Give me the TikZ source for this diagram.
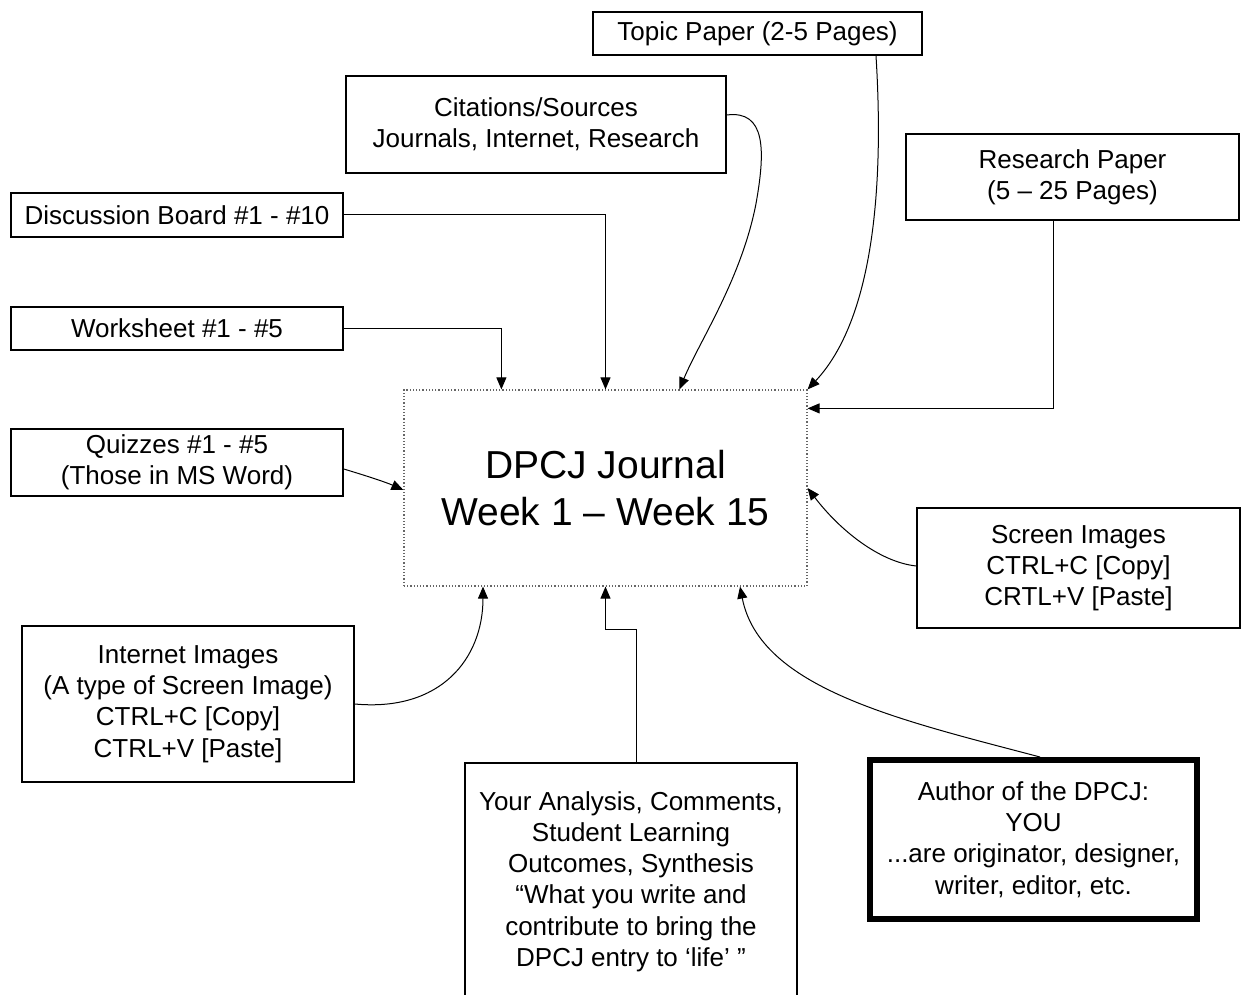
\documentclass[tikz,border=0pt]{standalone}
\usepackage{fontspec}
\setmainfont{Liberation Sans}
\usetikzlibrary{arrows.meta}
\tikzset{
  bx/.style={draw, line width=0.75pt, inner sep=0pt, align=center,
    font=\fontsize{13}{15.6}\selectfont},
  ctrbox/.style={draw=black!60, densely dotted, line width=0.6pt, inner sep=0pt, align=center,
    font=\fontsize{19.5}{23.5}\selectfont},
  thickbx/.style={draw, line width=3pt, inner sep=0pt, align=center,
    font=\fontsize{13}{15.6}\selectfont},
  arr/.style={line width=0.5pt, -{Triangle[length=6pt,width=5pt]}},
}
\begin{document}
\begin{tikzpicture}[x=0.5pt,y=-0.5pt]
\useasboundingbox (0,0) rectangle (1244,995);
\node[bx, minimum width=164.5pt, minimum height=21.5pt] (topic) at (757.5,33.5) {Topic Paper (2-5 Pages)};
\node[bx, minimum width=190pt, minimum height=48.5pt] (cite) at (536,124.5) {Citations/Sources\\Journals, Internet, Research};
\node[bx, minimum width=166pt, minimum height=22pt] (disc) at (177,215) {Discussion Board \#1 - \#10};
\node[bx, minimum width=166pt, minimum height=21.5pt] (work) at (177,328.5) {Worksheet \#1 - \#5};
\node[bx, minimum width=166pt, minimum height=33.5pt] (quiz) at (177,462.5) {Quizzes \#1 - \#5\\(Those in MS Word)};
\node[bx, minimum width=166.5pt, minimum height=43pt] (research) at (1072.5,177) {Research Paper\\(5 – 25 Pages)};
\node[ctrbox, minimum width=201.5pt, minimum height=98pt] (ctr) at (605.5,488) {DPCJ Journal\\Week 1 – Week 15};
\node[bx, minimum width=161.5pt, minimum height=60pt] (screen) at (1078.5,568) {Screen Images\\CTRL+C [Copy]\\CRTL+V [Paste]};
\node[bx, minimum width=166pt, minimum height=78pt] (inet) at (188,704) {Internet Images\\(A type of Screen Image)\\CTRL+C [Copy]\\CTRL+V [Paste]};
\node[bx, minimum width=166pt, minimum height=118.5pt] (anl) at (631,881.5) {Your Analysis, Comments,\\Student Learning\\Outcomes, Synthesis\\“What you write and\\contribute to bring the\\DPCJ entry to ‘life’ ”};
\node[thickbx, minimum width=163.5pt, minimum height=79.5pt] (author) at (1033.5,839.5) {Author of the DPCJ:\\YOU\\...are originator, designer,\\writer, editor, etc.};

\draw[arr] (disc.east) -| (ctr.north);
\draw[arr] (work.east) -| ([xshift=49pt]ctr.north west);
\draw[arr] ([yshift=4.75pt]cite.east) .. controls +(39,-5) and +(10,-55) .. ++(29,90)
  .. controls +(-15,75) and +(20,-48) .. ([xshift=138pt]ctr.north west);
\draw[arr] ([xshift=59.25pt]topic.south) .. controls +(9,145) and +(62,-66) .. (ctr.north east);
\draw[arr] ([xshift=-9.75pt]research.south) |- ([yshift=-9.5pt]ctr.north east);
\draw[arr] ([yshift=-3.25pt]quiz.east) .. controls +(20,6) and +(-18,-8) .. ([yshift=-1pt]ctr.west);
\draw[arr] ([yshift=1pt]screen.west) .. controls +(-37,-4) and +(32,42) .. (ctr.east);
\draw[arr] (inet.east) .. controls +(86,8) and +(0,72) .. ([xshift=-61.25pt]ctr.south);
\draw[arr] ([xshift=2.5pt]anl.north) -- ++(0,-133) -| (ctr.south);
\draw[arr] ([xshift=3.25pt]author.north) .. controls +(-140,-37) and +(20,102) .. ([xshift=67.25pt]ctr.south);
\end{tikzpicture}
\end{document}
